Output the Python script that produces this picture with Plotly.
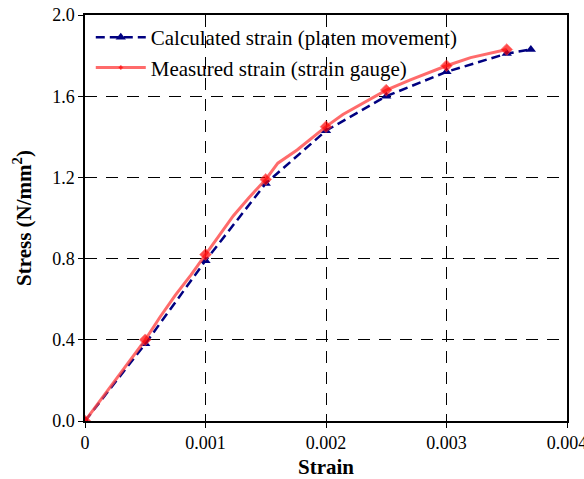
import plotly.graph_objects as go

# Calculated strain from platen movement
calc_strain = [0, 0.0005, 0.001, 0.0015, 0.002, 0.0025, 0.003, 0.0035, 0.0037]
calc_stress = [0, 0.38, 0.79, 1.17, 1.43, 1.60, 1.72, 1.81, 1.83]

# Measured strain from strain gauge (markers shown every 0.0005)
meas_strain = [0, 0.00025, 0.0005, 0.00062, 0.00075, 0.00088, 0.001, 0.00112, 0.00123,
               0.00136, 0.0015, 0.0016, 0.00176, 0.002, 0.00214, 0.0025, 0.0027,
               0.003, 0.0032, 0.0035]
meas_stress = [0, 0.20, 0.40, 0.51, 0.62, 0.72, 0.82, 0.92, 1.01,
               1.10, 1.19, 1.27, 1.335, 1.45, 1.51, 1.63, 1.68,
               1.75, 1.79, 1.83]
meas_marked = [0, 0.0005, 0.001, 0.0015, 0.002, 0.0025, 0.003, 0.0035]

x_ticks = [0, 0.001, 0.002, 0.003, 0.004]
x_labels = ["0", "0.001", "0.002", "0.003", "0.004"]
y_ticks = [0, 0.4, 0.8, 1.2, 1.6, 2.0]
y_labels = ["0.0", "0.4", "0.8", "1.2", "1.6", "2.0"]

font = "Liberation Serif, Times New Roman, serif"

marker_sizes = [9 if any(abs(s - m) < 1e-9 for m in meas_marked) else 0 for s in meas_strain]

fig = go.Figure()
fig.add_trace(go.Scatter(
    x=calc_strain, y=calc_stress, mode="lines+markers",
    name="Calculated strain (platen movement)",
    line=dict(color="#000080", width=2.5, dash="9px,5px"),
    marker=dict(symbol="triangle-up", size=9, color="#000080"),
))
fig.add_trace(go.Scatter(
    x=meas_strain, y=meas_stress, mode="lines+markers",
    name="Measured strain (strain gauge)",
    line=dict(color="rgba(255,70,70,0.8)", width=3),
    marker=dict(symbol="diamond", size=marker_sizes, color="#ff0000"),
))

axis_common = dict(
    showline=True, linecolor="black", linewidth=1.5, mirror=True,
    ticks="outside", ticklen=5, tickcolor="black", tickwidth=1,
    showgrid=True, gridcolor="black", gridwidth=1, griddash="12px,9px",
    zeroline=False, tickfont=dict(family=font, size=18, color="black"),
    ticklabeloverflow="allow",
)

fig.update_xaxes(
    range=[0, 0.004], tickvals=x_ticks, ticktext=x_labels, automargin=False,
    title=dict(text="<b>Strain</b>", font=dict(family=font, size=21, color="black")),
    **axis_common,
)
fig.update_yaxes(
    range=[0, 2.0], tickvals=y_ticks, ticktext=y_labels, automargin=False,
    title=dict(text="<b>Stress (N/mm<sup>2</sup>)</b>", font=dict(family=font, size=21, color="black")),
    **axis_common,
)

fig.update_layout(
    width=584, height=479,
    margin=dict(l=85, r=17, t=15, b=58),
    plot_bgcolor="white", paper_bgcolor="white",
    legend=dict(x=0.012, y=0.995, xanchor="left", yanchor="top",
                bgcolor="rgba(255,255,255,0)", font=dict(family=font, size=21, color="black"),
                itemwidth=50, tracegroupgap=0),
    showlegend=True,
)

fig.write_html("out.html")
